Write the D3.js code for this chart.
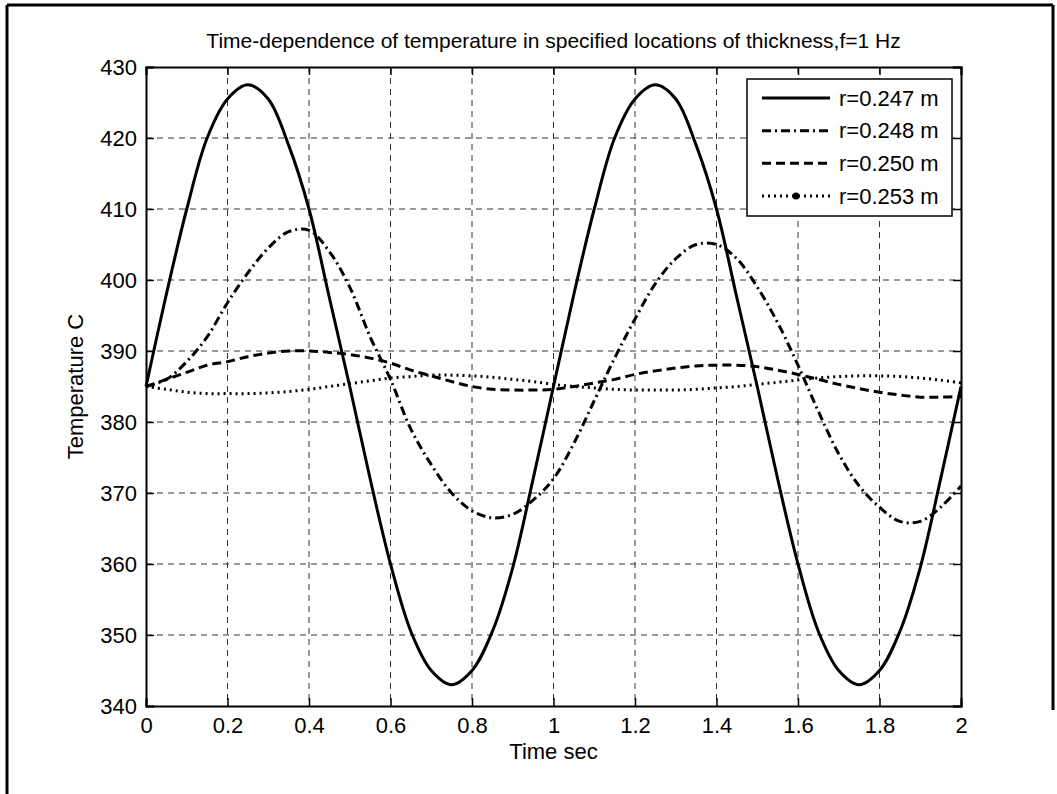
<!DOCTYPE html>
<html>
<head>
<meta charset="utf-8">
<script src="https://cdn.jsdelivr.net/npm/d3@7"></script>
<style>
body { margin: 0; background: #fff; }
text { font-family: Arial, "Liberation Sans", sans-serif; fill: #000; }
</style>
</head>
<body>
<script>
// time-dependence of temperature chart

//data
var timeVals = [0, 0.05, 0.1, 0.15, 0.2, 0.25, 0.3, 0.35, 0.4, 0.45, 0.5, 0.55, 0.6, 0.65, 0.7, 0.75, 0.8, 0.85, 0.9, 0.95,
    1, 1.05, 1.1, 1.15, 1.2, 1.25, 1.3, 1.35, 1.4, 1.45, 1.5, 1.55, 1.6, 1.65, 1.7, 1.75, 1.8, 1.85, 1.9, 1.95, 2];

var tempR247 = [385, 398, 410, 420, 425.5, 427.5, 425.5, 419, 410, 397.5, 385, 372, 360, 350.5, 345, 343, 345, 350.5, 359.5, 372,
    385, 398, 410, 420, 425.5, 427.5, 425.5, 419, 410, 397.5, 385, 372, 360, 350.5, 345, 343, 345, 350.5, 359.5, 372, 385];
var tempR248 = [385, 386, 388.5, 392, 396.8, 401, 404.5, 406.8, 407, 404, 399, 392, 386, 379, 374, 370, 367.5, 366.5, 367, 369,
    372, 377, 383, 389, 394.5, 399.5, 403, 405, 405, 403, 399, 394, 388, 381.5, 375.5, 371, 368, 366, 366, 368, 371];
var tempR250 = [385, 386, 387, 388, 388.5, 389.2, 389.7, 390, 390, 389.8, 389.5, 389, 388.3, 387.3, 386.5, 385.7, 385, 384.6, 384.5, 384.5,
    384.6, 385, 385.5, 386, 386.7, 387.2, 387.6, 387.9, 388, 388, 387.8, 387.3, 386.7, 386, 385.3, 384.7, 384.2, 383.8, 383.5, 383.5, 383.6];
var tempR253 = [385, 384.6, 384.2, 384, 384, 384, 384.1, 384.3, 384.6, 385, 385.4, 385.8, 386.2, 386.4, 386.6, 386.6, 386.5, 386.3, 386, 385.7,
    385.3, 385, 384.8, 384.6, 384.5, 384.5, 384.5, 384.6, 384.8, 385, 385.3, 385.6, 385.9, 386.2, 386.4, 386.5, 386.5, 386.4, 386.2, 385.9, 385.5];

var seriesNames = ["r=0.247 m", "r=0.248 m", "r=0.250 m", "r=0.253 m"];
var seriesDash = ["none", "9,4,2,4", "9,5", "2,4"];

var xTicks = [0, 0.2, 0.4, 0.6, 0.8, 1, 1.2, 1.4, 1.6, 1.8, 2];
var yTicks = [340, 350, 360, 370, 380, 390, 400, 410, 420, 430];

var titleText = "Time-dependence of temperature in specified locations of thickness,f=1 Hz";
var xLabel = "Time sec";
var yLabel = "Temperature C";

//anonymous function so plot edges stay local (window.top is read-only)
(function(){

//figure dimensions
var width = 1057,
    height = 794;
var plotLeft = 146, plotRight = 961, plotTop = 67, plotBottom = 706;

var svg = d3.select("body")
    .append("svg")
    .attr("width", width)
    .attr("height", height);

//white background and outer frame
svg.append("rect")
    .attr("width", width)
    .attr("height", height)
    .attr("fill", "#fff");

var frame = svg.append("g")
    .attr("stroke", "#000")
    .attr("stroke-width", 3);
frame.append("line").attr("x1", 7).attr("x2", 7).attr("y1", 5).attr("y2", height);
frame.append("line").attr("x1", 7).attr("x2", 1053).attr("y1", 5).attr("y2", 5);
frame.append("line").attr("x1", 1053).attr("x2", 1053).attr("y1", 5).attr("y2", 710);

//scales
var x = d3.scaleLinear().domain([0, 2]).range([plotLeft, plotRight]);
var y = d3.scaleLinear().domain([340, 430]).range([plotBottom, plotTop]);

//grid lines
var grid = svg.append("g")
    .attr("stroke", "#333")
    .attr("stroke-width", 1)
    .attr("stroke-dasharray", "6,5");
grid.selectAll(".vgrid")
    .data(xTicks.slice(1, -1))
    .enter()
    .append("line")
    .attr("x1", function(d){ return x(d); })
    .attr("x2", function(d){ return x(d); })
    .attr("y1", plotTop)
    .attr("y2", plotBottom);
grid.selectAll(".hgrid")
    .data(yTicks.slice(1, -1))
    .enter()
    .append("line")
    .attr("y1", function(d){ return y(d); })
    .attr("y2", function(d){ return y(d); })
    .attr("x1", plotLeft)
    .attr("x2", plotRight);

//axes (ticks pointing inward, box on)
var fontSize = 22;
var xAxis = svg.append("g")
    .attr("transform", "translate(0," + plotBottom + ")")
    .call(d3.axisBottom(x).tickValues(xTicks).tickSize(-8).tickPadding(11)
        .tickFormat(function(d){ return String(d); }));
var xAxisTop = svg.append("g")
    .attr("transform", "translate(0," + plotTop + ")")
    .call(d3.axisTop(x).tickValues(xTicks).tickSize(-8).tickFormat(""));
var yAxis = svg.append("g")
    .attr("transform", "translate(" + plotLeft + ",0)")
    .call(d3.axisLeft(y).tickValues(yTicks).tickSize(-8).tickPadding(9));
var yAxisRight = svg.append("g")
    .attr("transform", "translate(" + plotRight + ",0)")
    .call(d3.axisRight(y).tickValues(yTicks).tickSize(-8).tickFormat(""));

[xAxis, xAxisTop, yAxis, yAxisRight].forEach(function(g){
    g.select(".domain").attr("stroke", "#000").attr("stroke-width", 2);
    g.selectAll(".tick line").attr("stroke", "#000").attr("stroke-width", 1.5);
    g.selectAll("text")
        .style("font-size", fontSize + "px")
        .style("font-family", "Arial, 'Liberation Sans', sans-serif")
        .attr("fill", "#000");
});
xAxis.selectAll("text").attr("dy", "0.72em");

//curves
var allSeries = [tempR247, tempR248, tempR250, tempR253];
var line = d3.line()
    .x(function(d){ return x(d[0]); })
    .y(function(d){ return y(d[1]); })
    .curve(d3.curveCatmullRom);

svg.append("g")
    .selectAll(".curve")
    .data(allSeries)
    .enter()
    .append("path")
    .attr("class", "curve")
    .attr("d", function(vals){
        return line(vals.map(function(v, i){ return [timeVals[i], v]; }));
    })
    .attr("fill", "none")
    .attr("stroke", "#000")
    .attr("stroke-width", 3)
    .attr("stroke-dasharray", function(d, i){ return seriesDash[i]; });

//title and axis labels
svg.append("text")
    .attr("x", (plotLeft + plotRight) / 2)
    .attr("y", 40)
    .attr("text-anchor", "middle")
    .attr("dominant-baseline", "central")
    .style("font-size", "21px")
    .text(titleText);

svg.append("text")
    .attr("x", (plotLeft + plotRight) / 2)
    .attr("y", 751)
    .attr("text-anchor", "middle")
    .attr("dominant-baseline", "central")
    .style("font-size", fontSize + "px")
    .text(xLabel);

svg.append("text")
    .attr("transform", "translate(75," + ((plotTop + plotBottom) / 2) + ") rotate(-90)")
    .attr("text-anchor", "middle")
    .attr("dominant-baseline", "central")
    .style("font-size", fontSize + "px")
    .text(yLabel);

//legend
var legend = svg.append("g");
legend.append("rect")
    .attr("x", 747)
    .attr("y", 79)
    .attr("width", 205)
    .attr("height", 137)
    .attr("fill", "#fff")
    .attr("stroke", "#000")
    .attr("stroke-width", 1.5);

var rowY = d3.scalePoint().domain(seriesNames).range([98, 196]);
var rows = legend.selectAll(".row")
    .data(seriesNames)
    .enter()
    .append("g")
    .attr("transform", function(d){ return "translate(0," + rowY(d) + ")"; });
rows.append("line")
    .attr("x1", 762)
    .attr("x2", 830)
    .attr("stroke", "#000")
    .attr("stroke-width", 3)
    .attr("stroke-dasharray", function(d, i){ return seriesDash[i]; });
rows.filter(function(d, i){ return i == 3; })
    .append("circle")
    .attr("cx", 796)
    .attr("r", 3.5)
    .attr("fill", "#000");
rows.append("text")
    .attr("x", 839)
    .attr("dominant-baseline", "central")
    .style("font-size", fontSize + "px")
    .text(function(d){ return d; });

})();
</script>
</body>
</html>
